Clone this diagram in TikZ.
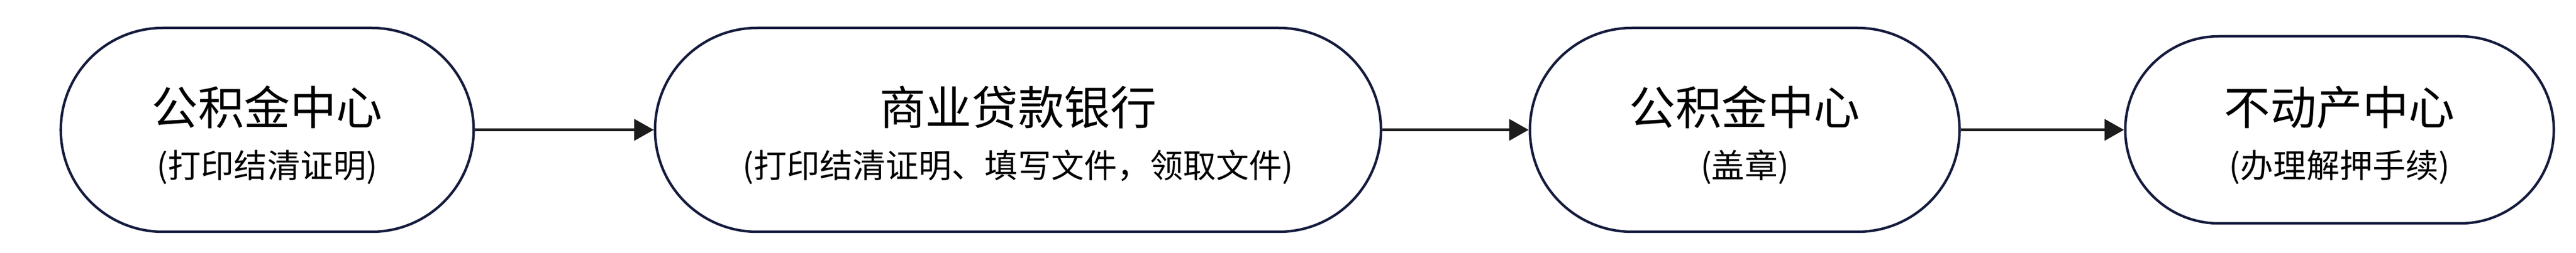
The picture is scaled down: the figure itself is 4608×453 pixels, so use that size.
\documentclass[tikz,border=0pt]{standalone}
\usepackage{fontspec}
\setmainfont{Noto Sans CJK SC}
\usepackage{xcolor}
\usetikzlibrary{shapes.misc,arrows.meta,positioning}

\definecolor{boxline}{HTML}{151B3D}
\definecolor{arrowline}{HTML}{1C1C1C}
\newcommand{\mainline}[1]{\rule{0pt}{25pt}#1}
\newcommand{\subline}[1]{{\fontsize{16.8}{27}\selectfont(#1)}}

\begin{document}
\begin{tikzpicture}[
    x=0.1mm, y=-0.1mm,
    font=\fontsize{23.5}{27}\selectfont,
    place/.style={rounded rectangle, draw=boxline, line width=0.45mm, fill=white, minimum width=#1, minimum height=36.5mm, align=center},
    arrow/.style={-{Triangle[length=3.5mm, width=3.8mm]}, line width=0.5mm, draw=arrowline}
]
    \useasboundingbox (0, 0) rectangle (4608, 453);

    % --- Steps ---
    \node[place=76.2mm] (gjj1) at (478, 232.5) {\mainline{公积金中心}\\\subline{打印结清证明}};
    \node[place=132.2mm] (bank) at (1821, 232.5) {\mainline{商业贷款银行}\\\subline{打印结清证明、填写文件，领取文件}};
    \node[place=79.2mm] (gjj2) at (3121, 232.5) {\mainline{公积金中心}\\\subline{盖章}};
    \node[place=79mm, minimum height=33.5mm] (bdc) at (4185, 232.5) {\mainline{不动产中心}\\\subline{办理解押手续}};

    % Flow
    \draw[arrow] (gjj1) -- (bank);
    \draw[arrow] (bank) -- (gjj2);
    \draw[arrow] (gjj2) -- (bdc);

\end{tikzpicture}
\end{document}
